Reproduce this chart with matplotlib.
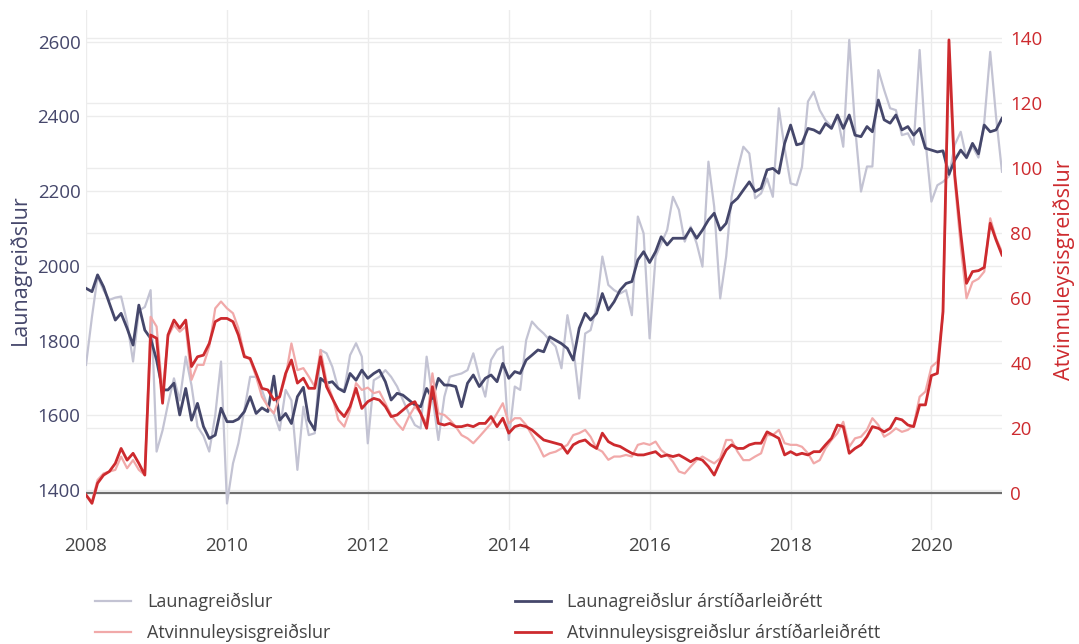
import pandas as pd
import numpy as np
import matplotlib
matplotlib.use('Agg')
import matplotlib.pyplot as plt
import matplotlib.dates as mdates
from matplotlib.transforms import blended_transform_factory

# monthly data, Jan 2008 - Jan 2021
dates = pd.date_range('2008-01-01', periods=157, freq='MS')

# Launagreiðslur (raw)
wages = [
    1735, 1864, 1971, 1935, 1909, 1915, 1918, 1850, 1744, 1880, 1890, 1935,
    1503, 1560, 1630, 1699, 1640, 1757, 1680, 1570, 1545, 1503, 1600, 1744,
    1364, 1471, 1525, 1614, 1703, 1703, 1668, 1623, 1605, 1560, 1668, 1640,
    1454, 1623, 1547, 1552, 1775, 1766, 1730, 1672, 1668, 1761, 1793, 1757,
    1525, 1694, 1703, 1721, 1703, 1677, 1641, 1605, 1574, 1565, 1757, 1650,
    1534, 1650, 1703, 1708, 1712, 1721, 1766, 1703, 1650, 1748, 1775, 1784,
    1534, 1677, 1668, 1801, 1851, 1833, 1819, 1801, 1784, 1726, 1868, 1784,
    1645, 1819, 1828, 1891, 2025, 1949, 1935, 1926, 1935, 1868, 2132, 2087,
    1806, 2025, 2060, 2096, 2185, 2150, 2065, 2105, 2060, 1998, 2279, 2158,
    1913, 2025, 2185, 2257, 2319, 2301, 2181, 2194, 2234, 2185, 2422, 2315,
    2221, 2216, 2265, 2440, 2466, 2417, 2390, 2373, 2399, 2319, 2605, 2373,
    2199, 2266, 2266, 2524, 2471, 2422, 2417, 2350, 2355, 2324, 2578, 2337,
    2172, 2216, 2225, 2240, 2324, 2359, 2288, 2320, 2290, 2385, 2573, 2400,
    2252,
]

# Launagreiðslur árstíðarleiðrétt
wages_sa = [
    1940, 1931, 1976, 1944, 1900, 1855, 1873, 1833, 1788, 1895, 1828, 1806,
    1748, 1668, 1668, 1686, 1601, 1672, 1587, 1632, 1570, 1538, 1547, 1619,
    1583, 1583, 1590, 1610, 1650, 1605, 1620, 1610, 1705, 1587, 1605, 1578,
    1650, 1675, 1587, 1561, 1699, 1686, 1690, 1672, 1663, 1712, 1694, 1721,
    1699, 1712, 1721, 1690, 1641, 1659, 1654, 1641, 1628, 1623, 1672, 1645,
    1699, 1681, 1681, 1677, 1623, 1686, 1708, 1677, 1699, 1708, 1690, 1739,
    1699, 1717, 1712, 1748, 1761, 1775, 1770, 1810, 1801, 1792, 1779, 1748,
    1833, 1873, 1855, 1873, 1926, 1882, 1904, 1935, 1953, 1958, 2016, 2038,
    2009, 2038, 2078, 2056, 2074, 2074, 2074, 2100, 2074, 2096, 2123, 2141,
    2096, 2114, 2167, 2181, 2203, 2225, 2199, 2208, 2257, 2261, 2248, 2328,
    2377, 2324, 2328, 2368, 2364, 2355, 2381, 2368, 2404, 2368, 2404, 2350,
    2346, 2373, 2359, 2444, 2391, 2382, 2404, 2364, 2373, 2350, 2368, 2315,
    2310, 2305, 2308, 2245, 2283, 2310, 2290, 2328, 2300, 2377, 2359, 2364,
    2395,
]

# Atvinnuleysisgreiðslur (raw)
unemp = [
    -0.5, -2.5, 4.1, 6.1, 6.7, 7.2, 11.3, 7.7, 10.2, 7.2, 5.6, 54.3,
    51.3, 30.8, 48.2, 51.8, 49.7, 51.3, 34.9, 39.5, 39.5, 45.1, 56.9, 59.0,
    56.9, 55.4, 50.8, 42.6, 41.0, 35.9, 29.7, 26.7, 24.6, 29.7, 35.9, 46.1,
    37.9, 38.5, 35.9, 32.8, 44.1, 34.4, 29.7, 22.6, 20.5, 25.6, 33.9, 31.8,
    32.5, 30.8, 31.3, 27.7, 24.1, 21.5, 19.5, 23.6, 26.7, 24.6, 21.5, 36.9,
    24.6, 24.1, 22.6, 20.5, 17.9, 16.9, 15.4, 17.4, 19.5, 21.5, 24.6, 27.7,
    21.5, 23.1, 23.1, 21.0, 17.9, 14.9, 11.3, 12.3, 12.8, 13.8, 14.9, 17.9,
    18.5, 19.5, 17.4, 13.8, 12.8, 10.3, 11.3, 11.3, 11.8, 11.3, 14.9, 15.4,
    14.9, 15.9, 13.3, 11.8, 9.7, 6.7, 6.1, 8.2, 10.2, 11.3, 10.2, 9.2,
    10.8, 16.4, 16.4, 12.8, 10.2, 10.2, 11.3, 12.3, 17.9, 17.9, 19.5, 15.4,
    14.9, 14.9, 14.3, 12.3, 9.2, 10.2, 13.8, 16.4, 18.5, 22.0, 14.3, 16.9,
    17.4, 19.5, 23.1, 21.0, 17.4, 18.5, 20.0, 18.9, 19.5, 21.0, 29.7, 31.3,
    38.9, 40.5, 54.9, 134.0, 96.0, 76.0, 60.0, 65.0, 66.0, 68.2, 84.6, 78.5,
    74.3,
]

# Atvinnuleysisgreiðslur árstíðarleiðrétt
unemp_sa = [
    -0.5, -3.1, 3.1, 5.6, 6.7, 9.2, 13.8, 10.2, 12.3, 9.2, 5.6, 48.7,
    47.7, 27.7, 48.7, 53.3, 50.8, 53.3, 39.0, 42.0, 42.5, 46.1, 52.8, 53.8,
    53.8, 52.8, 48.7, 42.0, 41.5, 36.9, 32.3, 31.8, 28.7, 29.7, 36.9, 41.0,
    33.9, 35.4, 32.3, 32.3, 42.0, 32.8, 29.2, 25.6, 23.6, 26.7, 32.3, 26.1,
    28.2, 29.2, 28.7, 26.7, 23.6, 24.1, 25.6, 27.2, 28.2, 24.6, 20.0, 32.8,
    21.5, 21.0, 21.5, 20.5, 20.5, 21.0, 20.5, 21.5, 21.5, 23.6, 20.5, 23.1,
    18.5, 20.5, 21.0, 20.5, 19.5, 17.9, 16.4, 15.9, 15.4, 14.9, 12.3, 14.9,
    15.9, 16.4, 14.9, 13.8, 18.5, 15.9, 14.9, 14.4, 13.3, 12.3, 11.8, 11.8,
    12.3, 12.8, 11.3, 11.8, 11.3, 11.8, 10.8, 9.7, 10.8, 10.2, 8.2, 5.6,
    9.7, 13.3, 14.9, 13.8, 13.8, 14.9, 15.4, 15.4, 18.9, 17.9, 16.9, 11.8,
    12.8, 11.8, 12.3, 11.8, 12.8, 12.8, 14.9, 16.9, 21.0, 20.5, 12.3, 13.8,
    14.9, 17.4, 20.5, 20.0, 18.9, 20.0, 23.1, 22.6, 21.0, 20.5, 27.2, 27.2,
    36.2, 36.9, 55.9, 139.5, 98.0, 80.0, 64.6, 68.2, 68.5, 69.5, 83.1, 78.0,
    73.3,
]

left_ticks = [1400, 1600, 1800, 2000, 2200, 2400, 2600]
right_ticks = [0, 20, 40, 60, 80, 100, 120, 140]

c_gray = '#c3c3d3'
c_navy = '#45476b'
c_lred = '#f1a9a9'
c_red = '#cd2a2e'
c_grid = '#ececec'

plt.rcParams['font.family'] = ['Open Sans', 'DejaVu Sans']

fig = plt.figure(figsize=(10.79, 6.44), dpi=100)
ax = fig.add_axes([86 / 1079, 1 - 530 / 644, (1002 - 86) / 1079, 520 / 644])
ax2 = ax.twinx()

ax.set_ylim(1293, 2685)
ax2.set_ylim(-11.3, 148.7)
ax.set_xlim(dates[0], dates[-1])

# gridlines (right axis grid drawn on the primary axes so it sits under the lines)
ax.set_yticks(left_ticks)
ax2.set_yticks(right_ticks)
ax.grid(True, color=c_grid, lw=1.0, zorder=0)
ax.set_axisbelow(True)
tr = blended_transform_factory(ax.transAxes, ax2.transData)
for v in right_ticks[1:]:
    ax.plot([0, 1], [v, v], transform=tr, color=c_grid, lw=1.0, zorder=0.5)
ax.plot([0, 1], [0, 0], transform=tr, color='#6e6e6e', lw=1.6, zorder=1)

l1, = ax.plot(dates, wages, color=c_gray, lw=1.6, label='Launagreiðslur', zorder=2)
l2, = ax.plot(dates, wages_sa, color=c_navy, lw=2.0, label='Launagreiðslur árstíðarleiðrétt', zorder=3)
l3, = ax2.plot(dates, unemp, color=c_lred, lw=1.6, label='Atvinnuleysisgreiðslur', zorder=2)
l4, = ax2.plot(dates, unemp_sa, color=c_red, lw=2.0, label='Atvinnuleysisgreiðslur árstíðarleiðrétt', zorder=3)

ax.xaxis.set_major_locator(mdates.YearLocator(2))
ax.xaxis.set_major_formatter(mdates.DateFormatter('%Y'))

for a in (ax, ax2):
    for s in a.spines.values():
        s.set_visible(False)
ax.tick_params(axis='both', length=0)
ax2.tick_params(axis='both', length=0)
ax.tick_params(axis='x', labelsize=13.5, labelcolor='#444444', pad=5)
ax.tick_params(axis='y', labelsize=13.5, labelcolor=c_navy, pad=4)
ax2.tick_params(axis='y', labelsize=13.5, labelcolor=c_red, pad=6)

# axis titles
fig.text(20 / 1079, 1 - 270 / 644, 'Launagreiðslur', fontsize=15.5, color=c_navy,
         rotation=90, ha='center', va='center')
fig.text(1064 / 1079, 1 - 270 / 644, 'Atvinnuleysisgreiðslur', fontsize=15.5, color=c_red,
         rotation=90, ha='center', va='center')

fig.legend([l1, l3, l2, l4],
           ['Launagreiðslur', 'Atvinnuleysisgreiðslur',
            'Launagreiðslur árstíðarleiðrétt', 'Atvinnuleysisgreiðslur árstíðarleiðrétt'],
           loc='upper left', bbox_to_anchor=(95 / 1079, 1 - 593 / 644), ncol=2,
           frameon=False, fontsize=13, handlelength=2.0, handletextpad=0.9,
           columnspacing=10.2, labelspacing=0.68, borderaxespad=0, borderpad=0,
           labelcolor='#444444')

fig.savefig('out.png', dpi=100)
